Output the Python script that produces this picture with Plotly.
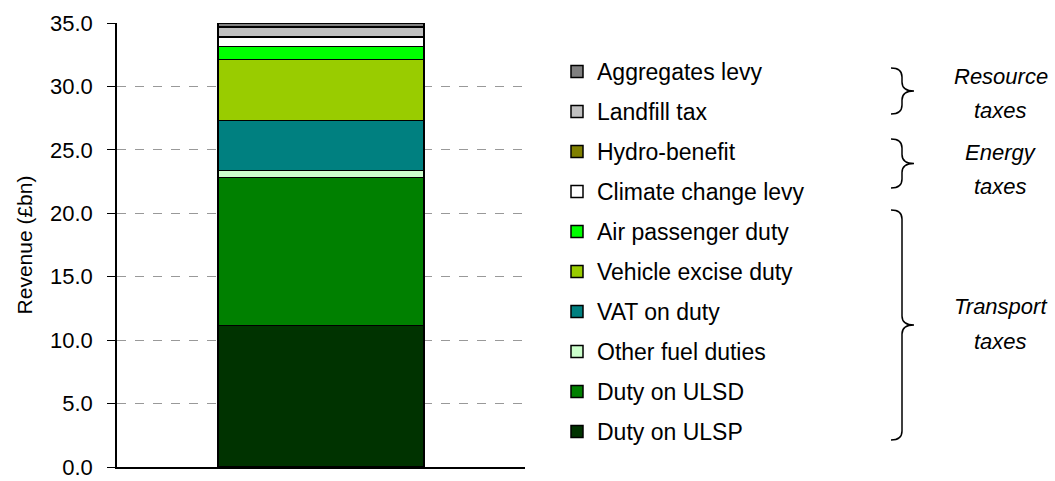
import plotly.graph_objects as go

# stack order bottom -> top
series = [
    "Duty on ULSP", "Duty on ULSD", "Other fuel duties", "VAT on duty",
    "Vehicle excise duty", "Air passenger duty", "Climate change levy",
    "Hydro-benefit", "Landfill tax", "Aggregates levy",
]
values = [11.15, 11.69, 0.52, 3.97, 4.81, 0.99, 0.75, 0.04, 0.76, 0.32]
colors = [
    "#003300", "#008000", "#CCFFCC", "#008080", "#99CC00",
    "#00FF00", "#FFFFFF", "#808000", "#C0C0C0", "#808080",
]
category = [""]

# bracket label lines, bracket top/bottom in px
groups = [
    (["Resource", "taxes"], [76, 110], 68, 114),
    (["Energy", "taxes"], [152, 186], 139, 188),
    (["Transport", "taxes"], [306, 341], 210, 440),
]

W, H = 1055, 481
L, R, T, B = 117, 525, 23, 467  # plot area in pixels

FONT = "Liberation Sans, Arial, sans-serif"


def px(x, y):
    # pixel -> paper coords
    return (x - L) / (R - L), (B - y) / (B - T)


def brace(top, bot, x0=891, xm=902, xt=914, r=9):
    mid = (top + bot) / 2
    pts = [
        ("M", [(x0, top)]),
        ("Q", [(xm, top), (xm, top + r)]),
        ("L", [(xm, mid - r)]),
        ("Q", [(xm, mid), (xt, mid)]),
        ("Q", [(xm, mid), (xm, mid + r)]),
        ("L", [(xm, bot - r)]),
        ("Q", [(xm, bot), (x0, bot)]),
    ]
    path = ""
    for cmd, coords in pts:
        path += cmd + " ".join("%.5f,%.5f" % px(x, y) for x, y in coords) + " "
    return path.strip()


fig = go.Figure()
for i, (name, val, col) in enumerate(zip(series, values, colors)):
    fig.add_trace(go.Bar(
        x=category, y=[val], name=name, legendgroup=name,
        legendrank=len(series) - i,
        marker=dict(color=col, line=dict(color="#000000", width=1.5)),
        width=0.505,
    ))

for lines, ys, top, bot in groups:
    fig.add_shape(type="path", path=brace(top, bot), xref="paper", yref="paper",
                  line=dict(color="#000000", width=1.5))
    for txt, y in zip(lines, ys):
        xa, ya = px(1001, y)
        fig.add_annotation(text="<i>" + txt + "</i>", x=xa, y=ya, xref="paper", yref="paper",
                           showarrow=False, font=dict(size=22, color="#000000", family=FONT),
                           xanchor="center", yanchor="middle")

fig.update_layout(
    width=W, height=H,
    margin=dict(l=L, r=W - R, t=T, b=H - B, autoexpand=False),
    barmode="stack",
    paper_bgcolor="white", plot_bgcolor="white",
    font=dict(family=FONT, size=21, color="#000000"),
    showlegend=True,
    legend=dict(
        x=px(557, 0)[0], y=px(0, 50)[1], xanchor="left", yanchor="top",
        traceorder="grouped", tracegroupgap=7.1,
        font=dict(size=23, family=FONT, color="#000000"),
        bgcolor="rgba(0,0,0,0)",
    ),
)
fig.update_xaxes(
    type="category", showticklabels=False, ticks="", showgrid=False,
    showline=True, linecolor="#000000", linewidth=1.5, automargin=False,
)
fig.update_yaxes(
    range=[0, 35], dtick=5, tickformat=".1f", automargin=False,
    showline=True, linecolor="#000000", linewidth=1.5,
    ticks="outside", ticklen=8, tickcolor="#000000", ticklabelstandoff=10,
    tickfont=dict(size=22), ticklabeloverflow="allow",
    showgrid=True, gridcolor="#999999", griddash="dash", gridwidth=1,
    title=dict(text="Revenue (£bn)", standoff=12, font=dict(size=21)),
    zeroline=False,
)

# drop the page's default body margin so the figure sits at the top-left corner
fig.write_html("out.html", config={"displayModeBar": False},
               post_script="document.body.style.margin='0';")
